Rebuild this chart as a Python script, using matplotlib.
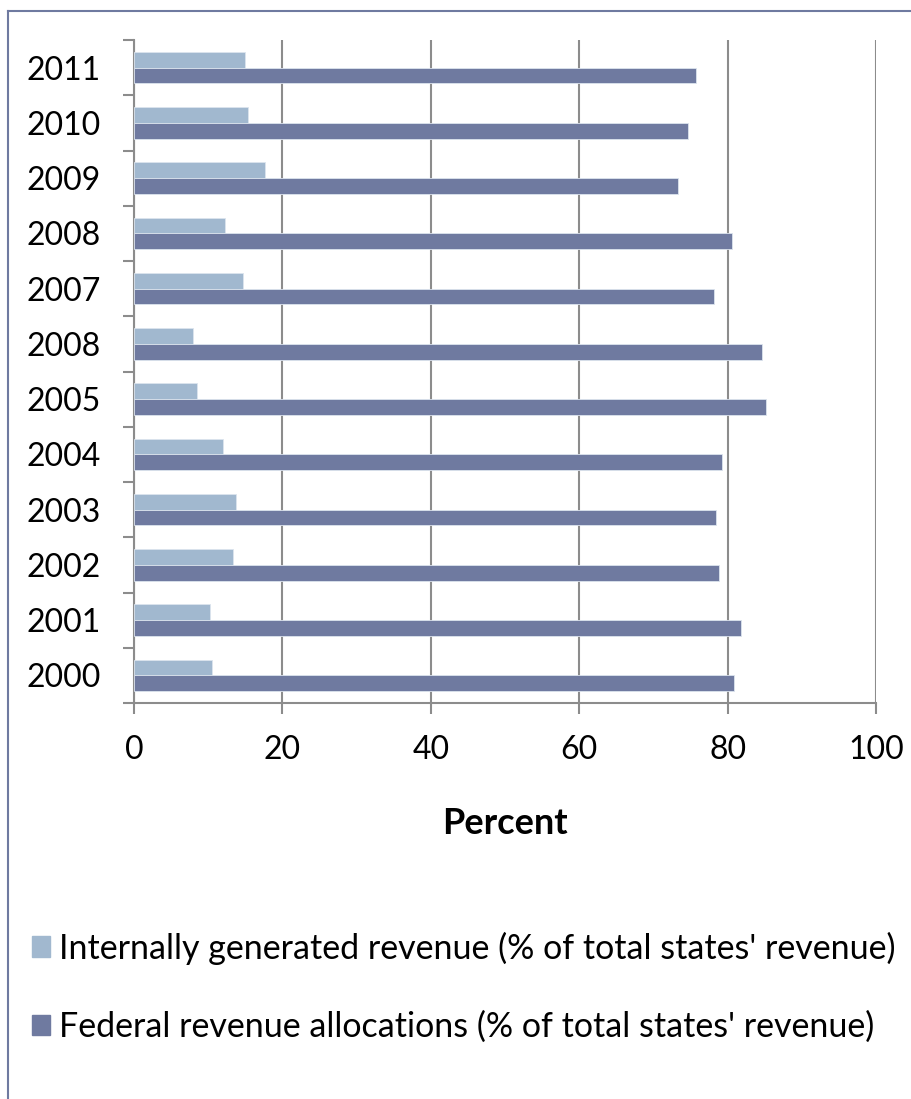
import numpy as np
import matplotlib.pyplot as plt
from matplotlib.patches import Patch
from matplotlib.lines import Line2D

plt.rcParams['font.family'] = ['Lato', 'DejaVu Sans']

# labels as printed on the chart (bottom to top)
years = ['2000', '2001', '2002', '2003', '2004', '2005', '2008', '2007', '2008', '2009', '2010', '2011']
internal = [10.5, 10.3, 13.3, 13.8, 12.0, 8.5, 8.0, 14.7, 12.3, 17.7, 15.3, 14.9]
federal = [80.9, 81.8, 78.8, 78.4, 79.3, 85.2, 84.7, 78.2, 80.6, 73.3, 74.6, 75.7]
x_ticks = [0, 20, 40, 60, 80, 100]

light = '#a1b8cf'
dark = '#6f7aa0'
grey = '#8c8c8c'

fig = plt.figure(figsize=(9.11, 10.99), dpi=100)
ax = fig.add_axes([134/911, 1 - 703/1099, (876 - 134)/911, (703 - 40)/1099])

pos = np.arange(len(years))
h = 0.284
ax.barh(pos + h/2, internal, height=h, color=light, edgecolor='#dce4ee', linewidth=0.6, zorder=3)
ax.barh(pos - h/2, federal, height=h, color=dark, edgecolor='#dce4ee', linewidth=0.6, zorder=3)

ax.set_xlim(0, 100)
ax.set_ylim(-0.5, len(years) - 0.5)
ax.set_xticks(x_ticks)
ax.set_xticklabels([str(t) for t in x_ticks], fontsize=23)
ax.tick_params(axis='x', length=8, width=1.5, color=grey, pad=15)

# ticks between categories, labels at the centres
ax.set_yticks(np.arange(-0.5, len(years), 1.0))
ax.set_yticklabels([])
ax.tick_params(axis='y', which='major', length=8, width=1.5, color=grey)
ax.set_yticks(pos, minor=True)
ax.set_yticklabels(years, minor=True, fontsize=23)
ax.tick_params(axis='y', which='minor', length=0, pad=24)

ax.grid(axis='x', color=grey, linewidth=1.5, zorder=0)
for s in ['top', 'right']:
    ax.spines[s].set_visible(False)
for s in ['left', 'bottom']:
    ax.spines[s].set_color(grey)
    ax.spines[s].set_linewidth(1.5)

ax.set_xlabel('Percent', fontsize=26, fontweight='bold', labelpad=30)

handles = [Patch(color=light), Patch(color=dark)]
labels = ["Internally generated revenue (% of total states' revenue)",
          "Federal revenue allocations (% of total states' revenue)"]
fig.legend(handles, labels, loc='upper left', bbox_to_anchor=(18/911, 1 - 918/1099),
           frameon=False, fontsize=24.5, handlelength=0.55, handleheight=0.55,
           handletextpad=0.25, labelspacing=1.35, borderaxespad=0)

# outer chart frame (left and top edges visible)
fig.add_artist(Line2D([8/911, 8/911], [0, 1 - 11/1099], color=dark, linewidth=1.5))
fig.add_artist(Line2D([8/911, 1], [1 - 11/1099, 1 - 11/1099], color=dark, linewidth=1.5))

fig.savefig('out.png', dpi=100)
